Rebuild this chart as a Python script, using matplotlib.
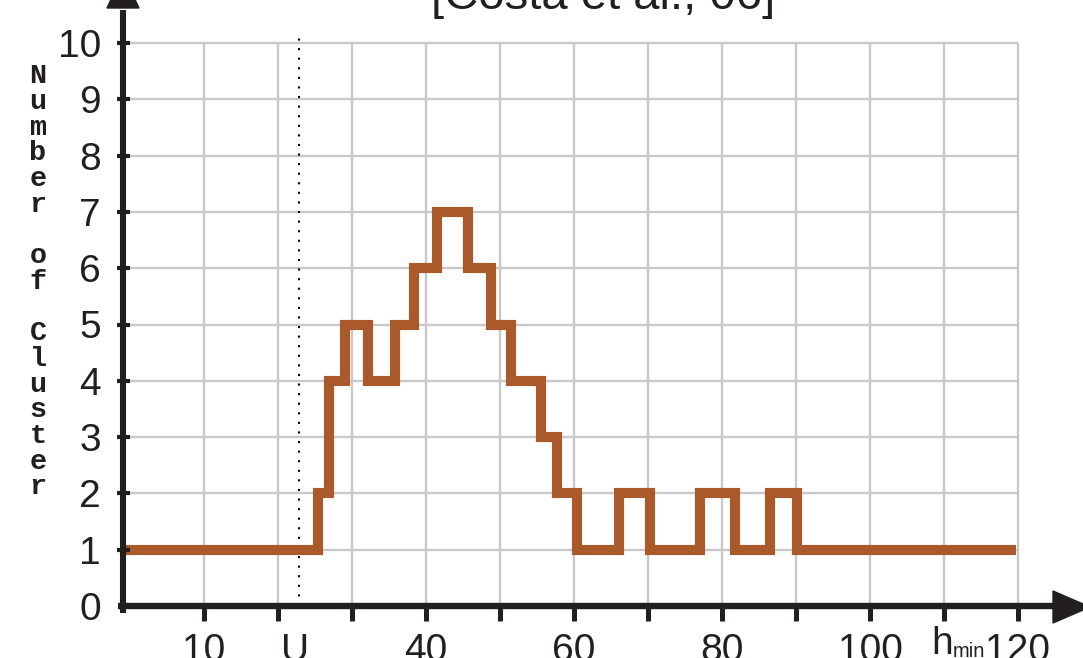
import matplotlib
matplotlib.use('Agg')
import matplotlib.pyplot as plt
from matplotlib.patches import Polygon

# ---- data ----
h_edges = [-0.5, 25.4, 26.9, 29.1, 32.1, 35.8, 38.4, 41.5, 45.7, 48.8, 51.5,
           55.6, 57.7, 60.4, 66.1, 70.3, 77.0, 81.8, 86.5, 90.1, 119.7]
n_clusters = [1, 2, 4, 5, 4, 5, 6, 7, 6, 5, 4, 3, 2, 1, 2, 1, 2, 1, 2, 1]
x_grid = [10, 20, 30, 40, 50, 60, 70, 80, 90, 100, 110, 120]
y_grid = [1, 2, 3, 4, 5, 6, 7, 8, 9, 10]
x_tick_vals = [10, 40, 60, 80, 100, 120]
x_tick_text = ['10', '40', '60', '80', '100', '120']
y_tick_vals = [0, 1, 2, 3, 4, 5, 6, 7, 8, 9, 10]
u_min = 22.8
y_label = "Number of Cluster"
title = "[Costa et al., 06]"

# ---- pixel mapping helpers (layout only) ----
def px2x(px):
    return (px - 130.0) / 7.4

def px2y(py):
    return (606.0 - py) / 56.3

fig = plt.figure(figsize=(10.83, 6.58), dpi=100)
ax = fig.add_axes([0, 0, 1, 1])
ax.set_xlim(px2x(0), px2x(1083))
ax.set_ylim(px2y(658), px2y(0))
ax.axis('off')

axis_col = '#231f20'
grid_col = '#c8c8c8'
line_col = '#aa5a2a'
sans = 'Liberation Sans'

axis_x = px2x(123)

# grid
ax.vlines(x_grid, 0, max(y_grid), colors=grid_col, lw=1.7, zorder=1)
ax.hlines(y_grid, axis_x, max(x_grid), colors=grid_col, lw=1.7, zorder=1)

# dotted U_min line
ax.plot([u_min, u_min], [0, px2y(38)], color='black', lw=1.5,
        linestyle=(0, (1, 3.6)), dash_capstyle='butt', zorder=2)

# step curve
ax.step(h_edges, n_clusters + [n_clusters[-1]], where='post', color=line_col,
        lw=7.3, solid_joinstyle='miter', solid_capstyle='butt', zorder=3)

# axes lines
ax.plot([px2x(118), px2x(1060)], [0, 0], color=axis_col, lw=4.6,
        solid_capstyle='butt', zorder=4)
ax.plot([axis_x, axis_x], [px2y(613), px2y(10)], color=axis_col, lw=4.4,
        solid_capstyle='butt', zorder=4)
ax.add_patch(Polygon([(px2x(107), px2y(8)), (px2x(139), px2y(8)),
                      (px2x(123), px2y(-26))], closed=True, color=axis_col,
                     zorder=5, clip_on=False))
ax.add_patch(Polygon([(px2x(1053), px2y(591)), (px2x(1053), px2y(623)),
                      (px2x(1090), px2y(607))], closed=True, color=axis_col,
                     zorder=5, clip_on=False))

# ticks
ax.vlines(x_grid, px2y(621), 0, colors=axis_col, lw=3.6, zorder=4)
ax.hlines(y_tick_vals[1:], px2x(117), px2x(130), colors=axis_col, lw=3.0, zorder=4)

# tick labels
for v, t in zip(x_tick_vals, x_tick_text):
    ax.text(v, px2y(661), t, ha='center', va='baseline', fontsize=28,
            family=sans, color='#231f20')
for v in y_tick_vals:
    ax.text(px2x(101), v - 14 / 56.3, str(v), ha='right', va='baseline',
            fontsize=28, family=sans, color='#231f20')

# U_min label
ax.text(px2x(281), px2y(661), 'U', ha='left', va='baseline', fontsize=28,
        family=sans, color='#231f20')
ax.text(px2x(309), px2y(674), 'min', ha='left', va='baseline', fontsize=16,
        family=sans, color='#231f20')

# h_min label
ax.text(px2x(931), px2y(654), 'h', ha='left', va='baseline', fontsize=28,
        family=sans, color='#231f20')
ax.text(px2x(953), px2y(657), 'min', ha='left', va='baseline', fontsize=14.5,
        family=sans, color='#231f20')

# vertical y label (stacked characters)
for i, ch in enumerate(y_label):
    if ch == ' ':
        continue
    ax.text(px2x(38), px2y(83.3 + 25.7 * i), ch, ha='center', va='baseline',
            fontsize=20.5, family='Liberation Mono', weight='bold', color='#231f20')

# title (clipped at top)
ax.text(px2x(603), px2y(9), title, ha='center', va='baseline', fontsize=34,
        family=sans, color='#231f20')

fig.savefig('out.png', dpi=100)
